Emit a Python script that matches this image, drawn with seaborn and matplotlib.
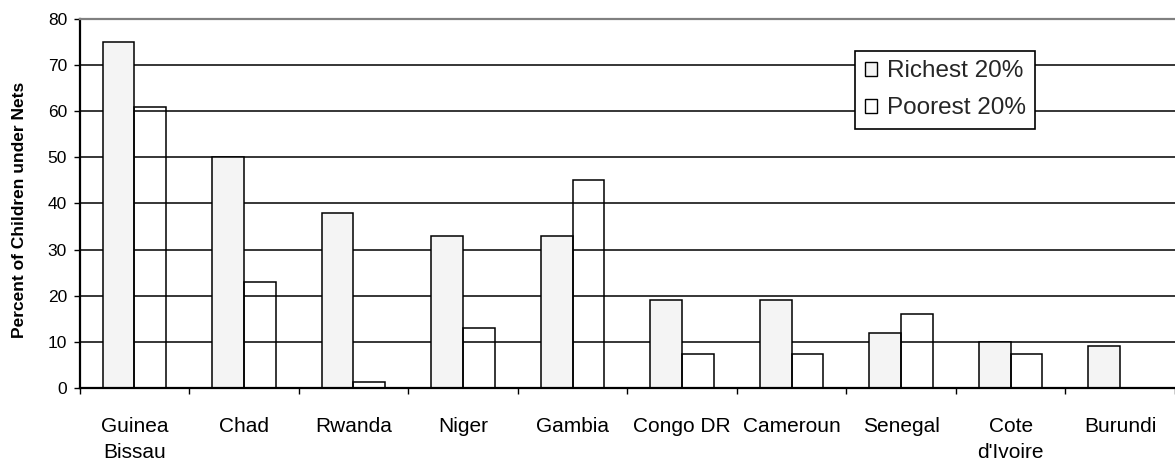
import numpy as np
import pandas as pd
import matplotlib
matplotlib.use("Agg")
import matplotlib.pyplot as plt
from matplotlib.patches import Patch
import seaborn as sns

# Share of children sleeping under bed nets, by wealth quintile
countries = ["Guinea\nBissau", "Chad", "Rwanda", "Niger", "Gambia",
             "Congo DR", "Cameroun", "Senegal", "Cote\nd'Ivoire", "Burundi"]
richest = [75, 50, 38, 33, 33, 19, 19, 12, 10, 9]
poorest = [61, 23, 1.2, 13, 45, 7.3, 7.3, 16, 7.3, 0]
groups = ["Richest 20%", "Poorest 20%"]
y_ticks = [0, 10, 20, 30, 40, 50, 60, 70, 80]

df = pd.DataFrame({
    "country": countries * 2,
    "group": [groups[0]] * len(countries) + [groups[1]] * len(countries),
    "value": richest + poorest,
})

sns.set_theme(style="white")
plt.rcParams["font.family"] = ["Liberation Sans", "DejaVu Sans"]

fig = plt.figure(figsize=(11.75, 4.61), dpi=100)
ax = fig.add_axes([0.0677, 0.1584, 0.9323, 0.8004])

rich_fill = "#f4f4f4"
sns.barplot(data=df, x="country", y="value", hue="group", hue_order=groups,
            order=countries, palette=[rich_fill, "white"], width=0.58,
            edgecolor="black", linewidth=1.1, saturation=1, legend=False,
            ax=ax)

# the poorest-quintile bars are outlines only, grid shows through
for bar in ax.containers[1]:
    bar.set_facecolor("none")

ax.set_xlim(-0.5, len(countries) - 0.5)
ax.set_ylim(0, 80)
ax.set_yticks(y_ticks)
ax.set_yticklabels([str(t) for t in y_ticks], fontsize=12.5)
ax.tick_params(axis="y", which="major", direction="out", length=4, width=1,
               color="black", pad=5, left=True, labelcolor="black")

# category boundaries carry the tick marks, names sit between them
ax.set_xticks(np.arange(-0.5, len(countries), 1.0))
ax.set_xticklabels([])
ax.set_xticks(np.arange(len(countries)), minor=True)
ax.set_xticklabels(countries, minor=True, fontsize=15, linespacing=1.45)
ax.tick_params(axis="x", which="major", direction="out", length=4.5, width=1,
               color="black", bottom=True)
ax.tick_params(axis="x", which="minor", length=0, pad=21, bottom=True,
               labelcolor="black")

ax.set_axisbelow(True)
ax.yaxis.grid(True, color="black", linewidth=1.1)
ax.xaxis.grid(False)

ax.set_xlabel("")
ax.set_ylabel("Percent of Children under Nets", fontsize=12.5,
              fontweight="heavy", color="black")
ax.yaxis.set_label_coords(-0.048, 0.482)

for side in ("left", "bottom"):
    ax.spines[side].set_visible(True)
    ax.spines[side].set_color("black")
    ax.spines[side].set_linewidth(1.6)
ax.spines["top"].set_color("#808080")
ax.spines["top"].set_linewidth(1.6)
ax.spines["right"].set_visible(False)

handles = [Patch(facecolor=rich_fill, edgecolor="black", linewidth=1),
           Patch(facecolor="white", edgecolor="black", linewidth=1)]
leg = ax.legend(handles, groups, loc="upper left",
                bbox_to_anchor=(855 / 1175, 1 - 50.7 / 461),
                bbox_transform=fig.transFigure, fontsize=17.5,
                frameon=True, fancybox=False, shadow=False, framealpha=1,
                edgecolor="black", handlelength=0.5, handleheight=0.5,
                handletextpad=0.4, labelspacing=0.62, borderpad=0.4,
                borderaxespad=0)
leg.get_frame().set_linewidth(1.2)

fig.savefig("out.png", dpi=100)
